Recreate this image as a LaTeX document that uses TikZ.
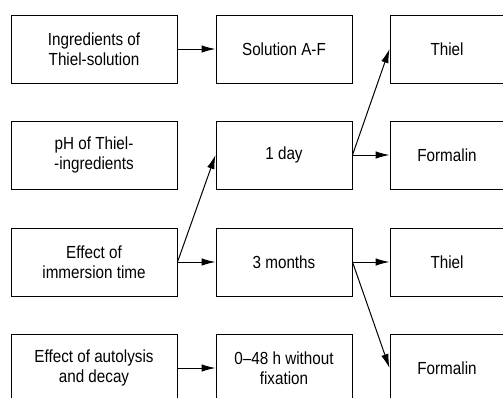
\documentclass[tikz,border=0pt]{standalone}
\usepackage{fontspec}
\setmainfont{Liberation Sans}[FakeStretch=0.87]
\usepackage{tikz}
\usetikzlibrary{arrows.meta}
\tikzset{
  stepbox/.style={draw, line width=1pt, align=center, inner sep=0pt,
    minimum height=68pt, font=\fontsize{17.5}{19.5}\selectfont},
  colA/.style={stepbox, minimum width=166pt},
  colB/.style={stepbox, minimum width=136pt},
  colC/.style={stepbox, minimum width=114pt},
  flow/.style={line width=1pt, -{Latex[length=14pt,width=7.5pt]}}
}

\begin{document}
\begin{tikzpicture}[x=1pt,y=-1pt]
% Frame
\fill[white] (0,0) rectangle (503,397);
\clip (0,0) rectangle (503,397);
% Left column
\node[colA] (ingr) at (94,49) {Ingredients of\\Thiel-solution};
\node[colA] (ph) at (94,155) {pH of Thiel-\\-ingredients};
\node[colA] (immer) at (94,262) {Effect of\\immersion time};
\node[colA] (auto) at (94,368) {Effect of autolysis\\and decay};
% Middle column
\node[colB] (sol) at (284,49) {Solution A-F};
\node[colB] (day) at (284,155) {1 day};
\node[colB] (month) at (284,262) {3 months};
\node[colB] (nofix) at (284,368) {0--48 h without\\fixation};
% Right column
\node[colC] (thielA) at (447,49) {Thiel};
\node[colC] (formA) at (447,155) {Formalin};
\node[colC] (thielB) at (447,262) {Thiel};
\node[colC] (formB) at (447,368) {Formalin};
% Arrows
\draw[flow] (ingr.east) -- (sol.west);
\draw[flow] (immer.east) -- (day.west);
\draw[flow] (immer.east) -- (month.west);
\draw[flow] (auto.east) -- (nofix.west);
\draw[flow] (day.east) -- (thielA.west);
\draw[flow] (day.east) -- (formA.west);
\draw[flow] (month.east) -- (thielB.west);
\draw[flow] (month.east) -- (formB.west);
\end{tikzpicture}
\end{document}
